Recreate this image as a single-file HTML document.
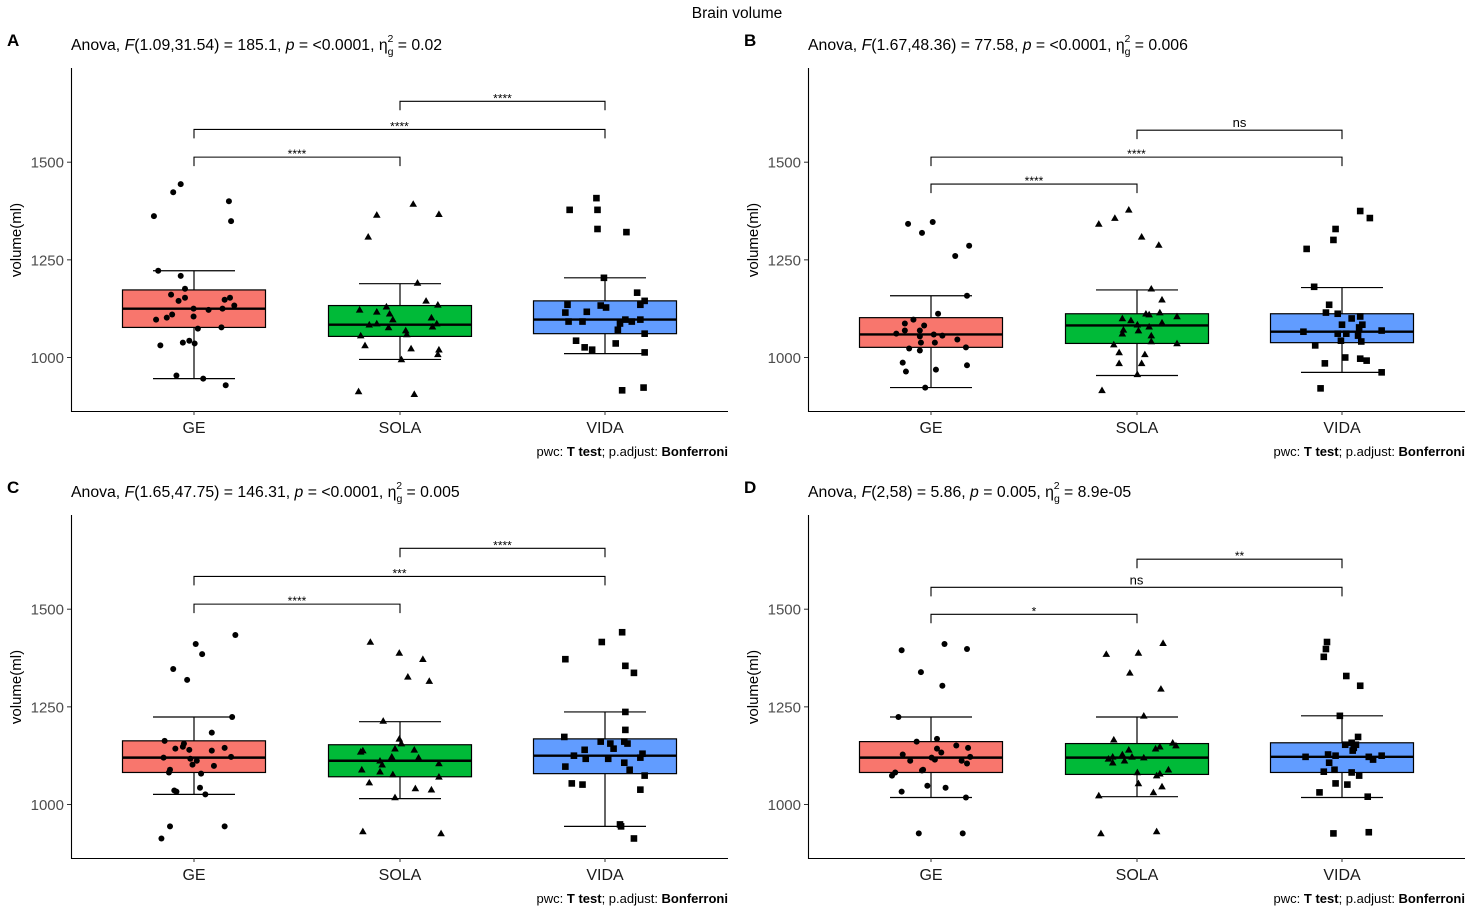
<!DOCTYPE html>
<html><head><meta charset="utf-8"><style>
html,body{margin:0;padding:0;background:#fff;}
svg{display:block;font-family:"Liberation Sans",Arial,sans-serif;}
</style></head><body>
<svg id="chart" width="1474" height="916" viewBox="0 0 1474 916" xmlns="http://www.w3.org/2000/svg">
<text x="737" y="18" text-anchor="middle" font-size="15.5">Brain volume</text>
</svg>
<script>
const categories = ["GE","SOLA","VIDA"];
const fills = ["#F8766D","#00BA38","#619CFF"];
const yTicks = [1000,1250,1500];
const panelLabels = ["A","B","C","D"];
const anovaF = [["1.09,31.54","185.1","<0.0001","0.02"],["1.67,48.36","77.58","<0.0001","0.006"],["1.65,47.75","146.31","<0.0001","0.005"],["2,58","5.86","0.005","8.9e-05"]];
// box stats per panel per group: [lowerWhisker, q1, median, q3, upperWhisker]
const boxA = [[946,1077,1125,1173,1222],[995,1054,1084,1133,1189],[1010,1061,1097,1145,1204]];
const boxB = [[923,1026,1059,1102,1158],[954,1036,1082,1112,1173],[962,1038,1066,1112,1179]];
const boxC = [[1026,1082,1120,1163,1224],[1015,1071,1112,1153,1212],[944,1079,1125,1168,1237]];
const boxD = [[1018,1082,1120,1161,1224],[1020,1077,1120,1156,1224],[1018,1082,1122,1158,1227]];
// points: [jitter offset, volume]
const ptsA_GE = [[-43,1362],[-25,1423],[-18,1444],[27,1400],[29,1349],[-39,1222],[-18,1209],[-14,1176],[-27,1161],[-20,1145],[-14,1153],[23,1148],[28,1153],[32,1133],[-6,1125],[8,1122],[21,1125],[-41,1097],[-31,1102],[-26,1110],[-6,1105],[-2,1074],[20,1077],[-37,1031],[-16,1038],[-10,1043],[-5,1036],[-22,954],[3,946],[24,929]];
const ptsA_SOLA = [[-7,1393],[-41,1365],[17,1367],[-49,1309],[-3,1191],[5,1145],[16,1135],[-57,1122],[-32,1130],[-41,1117],[-29,1112],[-26,1097],[10,1102],[-48,1084],[-41,1087],[15,1087],[11,1079],[-30,1077],[-14,1069],[-13,1059],[-56,1056],[-52,1031],[-9,1023],[17,1020],[16,1008],[-18,995],[-58,913],[-6,906]];
const ptsA_VIDA = [[-41,1408],[-66,1378],[-40,1378],[-40,1329],[-13,1321],[-34,1204],[-3,1166],[4,1145],[-68,1135],[-37,1133],[-32,1128],[0,1135],[-50,1117],[-70,1115],[-14,1097],[0,1097],[-8,1092],[-67,1092],[-54,1092],[-19,1087],[-21,1071],[4,1061],[-60,1043],[-52,1026],[-45,1020],[-23,1036],[4,1013],[-17,916],[3,923]];
const ptsB_GE = [[-27,1342],[-4,1347],[-14,1319],[30,1286],[17,1260],[28,1158],[1,1112],[-22,1097],[-30,1087],[-12,1082],[-30,1069],[-16,1069],[-38,1061],[-16,1054],[-3,1059],[5,1056],[19,1046],[-15,1038],[-2,1038],[27,1026],[-26,1023],[-16,1018],[-32,987],[28,980],[-29,964],[-1,969],[-11,923]];
const ptsB_SOLA = [[-27,1378],[-40,1357],[-55,1342],[-15,1309],[1,1288],[-6,1176],[4,1148],[2,1115],[-11,1112],[-8,1110],[18,1105],[-33,1100],[-25,1095],[-19,1084],[4,1089],[-8,1079],[-32,1071],[-18,1069],[-33,1061],[-6,1056],[-6,1041],[18,1036],[-41,1033],[-36,1013],[-12,1008],[-36,985],[-15,985],[-19,957],[-52,916]];
const ptsB_VIDA = [[-16,1375],[-7,1357],[-39,1329],[-41,1301],[-66,1278],[-59,1181],[-45,1135],[-48,1115],[-37,1112],[-16,1105],[-24,1100],[-14,1084],[-33,1084],[-17,1077],[-69,1066],[4,1069],[-37,1061],[-29,1061],[-18,1056],[-34,1043],[-15,1041],[-58,1031],[-30,1000],[-16,997],[-10,992],[-49,985],[4,962],[-53,921]];
const ptsC_GE = [[33,1434],[-4,1411],[2,1385],[-25,1347],[-12,1319],[30,1224],[11,1184],[-33,1163],[-15,1156],[-23,1143],[-16,1148],[-10,1140],[11,1138],[23,1145],[-34,1120],[-9,1117],[-3,1112],[29,1122],[-7,1102],[13,1099],[-28,1089],[-29,1082],[1,1079],[0,1043],[-24,1036],[-22,1033],[5,1026],[-28,944],[23,944],[-36,913]];
const ptsC_SOLA = [[-47,1416],[-20,1388],[2,1372],[-12,1327],[8,1316],[-35,1214],[-20,1168],[-18,1156],[-56,1135],[-54,1138],[-24,1143],[-6,1140],[-27,1122],[-2,1120],[-38,1112],[-36,1102],[17,1105],[-55,1089],[-38,1084],[-26,1077],[17,1071],[-48,1056],[-5,1041],[10,1038],[-24,1018],[-54,931],[19,926]];
const ptsC_VIDA = [[-17,1441],[-36,1416],[-70,1372],[-14,1355],[-6,1337],[-14,1237],[-14,1191],[-71,1173],[-37,1161],[-28,1156],[-15,1161],[-12,1156],[-52,1140],[-25,1143],[-62,1125],[-51,1117],[-30,1117],[2,1130],[0,1120],[-15,1107],[-70,1097],[-10,1089],[4,1074],[-64,1054],[-54,1051],[0,1038],[-19,949],[-18,944],[-6,913]];
const ptsD_GE = [[-33,1395],[7,1411],[28,1398],[-15,1339],[5,1304],[-36,1224],[0,1168],[-19,1161],[18,1151],[29,1145],[0,1143],[4,1133],[-32,1128],[-5,1120],[31,1122],[-25,1112],[-2,1115],[23,1112],[28,1105],[-13,1089],[-14,1087],[-39,1082],[-42,1074],[-9,1048],[8,1043],[-33,1033],[27,1018],[-17,926],[24,926]];
const ptsD_SOLA = [[5,1413],[-48,1385],[-18,1388],[-26,1337],[3,1296],[-13,1227],[-41,1166],[14,1158],[17,1151],[2,1148],[-2,1143],[-27,1140],[-33,1128],[-42,1122],[-24,1122],[-13,1120],[-46,1117],[-31,1112],[-42,1107],[-19,1082],[2,1079],[10,1089],[-1,1074],[-18,1054],[4,1046],[-4,1031],[-55,1023],[-53,926],[-1,931]];
const ptsD_VIDA = [[-47,1416],[-48,1398],[-50,1378],[-29,1329],[-16,1304],[-35,1227],[-18,1173],[-30,1153],[-24,1158],[-20,1153],[-22,1145],[-23,1138],[-67,1122],[-46,1128],[-39,1125],[-8,1122],[4,1125],[-4,1115],[-45,1107],[-40,1089],[-50,1084],[-24,1082],[-17,1074],[-39,1054],[-28,1051],[-54,1031],[-9,1020],[-41,926],[-8,929]];
// brackets: [groupFrom, groupTo, level value, label]
const bracketsA = [[0,1,1513,"****"],[0,2,1584,"****"],[1,2,1656,"****"]];
const bracketsB = [[0,1,1444,"****"],[0,2,1513,"****"],[1,2,1582,"ns"]];
const bracketsC = [[0,1,1513,"****"],[0,2,1584,"***"],[1,2,1656,"****"]];
const bracketsD = [[0,1,1487,"*"],[0,2,1556,"ns"],[1,2,1628,"**"]];

const panels = [
 {ox:0,oy:0,box:boxA,pts:[ptsA_GE,ptsA_SOLA,ptsA_VIDA],br:bracketsA},
 {ox:737,oy:0,box:boxB,pts:[ptsB_GE,ptsB_SOLA,ptsB_VIDA],br:bracketsB},
 {ox:0,oy:447,box:boxC,pts:[ptsC_GE,ptsC_SOLA,ptsC_VIDA],br:bracketsC},
 {ox:737,oy:447,box:boxD,pts:[ptsD_GE,ptsD_SOLA,ptsD_VIDA],br:bracketsD}
];
const NS="http://www.w3.org/2000/svg";
const svg=document.getElementById('chart');
function mk(tag,attrs,parent){const e=document.createElementNS(NS,tag);for(const k in attrs)e.setAttribute(k,attrs[k]);(parent||svg).appendChild(e);return e;}
const catX=[194,400,605];
// jitter calibration (jitter offsets measured relative to panel origin at 110)
function jitterX(center,dx){return (dx+center-110)*(3/2.8)+110;}
panels.forEach((p,pi)=>{
  const g=mk('g',{});
  
  
  const y=v=>p.oy+357.5-(v-1000)*0.3906;
  const x=i=>p.ox+catX[i];
  const pl=mk('text',{x:p.ox+7,y:p.oy+46,'font-size':17,'font-weight':'bold'},g);pl.textContent=panelLabels[pi];
  
  
  const a=anovaF[pi];
  const st=mk('text',{x:p.ox+71,y:p.oy+50,'font-size':15.8},g);
  
  
  st.innerHTML='Anova, <tspan font-style="italic">F</tspan>('+a[0]+') = '+a[1]+', <tspan font-style="italic">p</tspan>  = '+a[2].replace('<','&lt;')+', η<tspan font-size="10.5" dy="5">g</tspan><tspan font-size="10.5" dx="-6" dy="-13">2</tspan><tspan dy="8"> = '+a[3]+'</tspan>';
  const ax=mk('path',{d:`M${p.ox+71.5},${p.oy+68}V${p.oy+411.5}H${p.ox+728}`,stroke:'#000','stroke-width':1.1,fill:'none'},g);
  
  
  yTicks.forEach(t=>{
    mk('line',{x1:p.ox+67,x2:p.ox+71,y1:y(t),y2:y(t),stroke:'#333'},g);
    const tl=mk('text',{x:p.ox+64,y:y(t)+5.5,'text-anchor':'end','font-size':15,fill:'#4d4d4d'},g);tl.textContent=t;
    
    
  });
  const yt=mk('text',{transform:`translate(${p.ox+21},${p.oy+240}) rotate(-90)`,'text-anchor':'middle','font-size':15},g);yt.textContent='volume(ml)';
  
  
  categories.forEach((c,i)=>{
    mk('line',{x1:x(i),x2:x(i),y1:p.oy+411,y2:p.oy+415,stroke:'#333'},g);
    const cl=mk('text',{x:x(i),y:p.oy+433,'text-anchor':'middle','font-size':16,fill:'#1a1a1a'},g);cl.textContent=c;
    
    
    const b=p.box[i];
    const w=mk('path',{d:`M${x(i)},${y(b[0])}V${y(b[1])}M${x(i)},${y(b[3])}V${y(b[4])}M${x(i)-41},${y(b[0])}H${x(i)+41}M${x(i)-41},${y(b[4])}H${x(i)+41}`,stroke:'#000','stroke-width':1.2,fill:'none'},g);
    
    
    const r=mk('rect',{x:x(i)-71.5,y:y(b[3]),width:143,height:y(b[1])-y(b[3]),fill:fills[i],stroke:'#000','stroke-width':1.2},g);
    
    
    mk('line',{x1:x(i)-71.5,x2:x(i)+71.5,y1:y(b[2]),y2:y(b[2]),stroke:'#000','stroke-width':2.4},g);
    p.pts[i].forEach(pt=>{
      const px=p.ox+jitterX(catX[i],pt[0]),py=y(pt[1]);let m;
      if(i===0)m=mk('circle',{cx:px,cy:py,r:3},g);
      else if(i===1)m=mk('path',{d:`M${px},${py-3.8}L${px+3.8},${py+2.8}H${px-3.8}Z`},g);
      else m=mk('rect',{x:px-3.3,y:py-3.3,width:6.6,height:6.6},g);
      
      
    });
  });
  p.br.forEach(br=>{
    const yy=y(br[2]),x1=x(br[0]),x2=x(br[1]);
    const bp=mk('path',{d:`M${x1},${yy+9}V${yy}H${x2}V${yy+9}`,stroke:'#000','stroke-width':1.1,fill:'none'},g);
    
    
    const bl=mk('text',{x:(x1+x2)/2,y:br[3]==='ns'?yy-3:yy+1,'text-anchor':'middle','font-size':br[3]==='ns'?13:12},g);bl.textContent=br[3];
    
    
  });
  const cap=mk('text',{x:p.ox+728,y:p.oy+456,'text-anchor':'end','font-size':13},g);
  cap.innerHTML='pwc: <tspan font-weight="bold">T test</tspan>; p.adjust: <tspan font-weight="bold">Bonferroni</tspan>';
  
  
});
</script>
</body></html>
